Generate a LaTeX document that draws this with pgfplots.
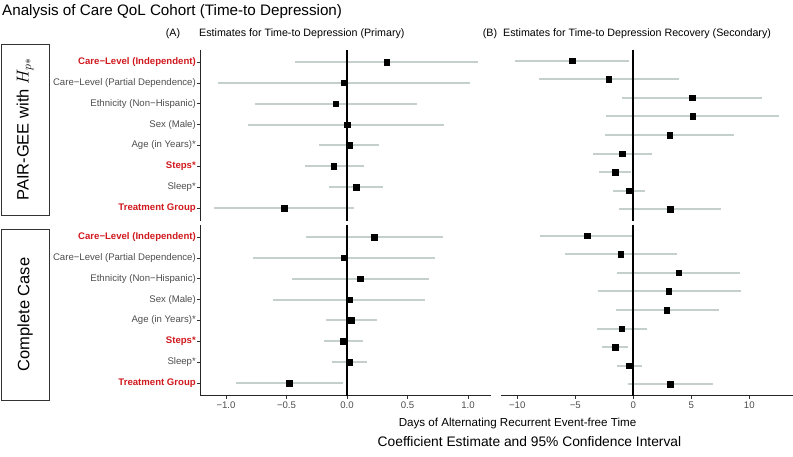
\documentclass[border=0pt]{standalone}
\usepackage{fontspec}
\setmainfont{Liberation Sans}
\usepackage{pgfplots}
\usepackage{pgfplotstable}
\pgfplotsset{compat=1.18}

\definecolor{cigray}{HTML}{C5CFCB}
\definecolor{labred}{HTML}{D0191E}
\definecolor{ticktxt}{HTML}{4D4D4D}

% row est lo hi
\pgfplotstableread{
row est lo hi
1 0.328 -0.43 1.08
2 -0.025 -1.066 1.017
3 -0.093 -0.76 0.576
4 0.0 -0.815 0.80
5 0.02 -0.23 0.267
6 -0.11 -0.35 0.14
7 0.074 -0.146 0.295
8 -0.52 -1.10 0.06
}\primpair
\pgfplotstableread{
row est lo hi
1 0.223 -0.339 0.79
2 -0.025 -0.774 0.725
3 0.11 -0.457 0.68
4 0.02 -0.61 0.642
5 0.036 -0.174 0.245
6 -0.03 -0.19 0.13
7 0.02 -0.127 0.168
8 -0.477 -0.917 -0.036
}\primcc
\pgfplotstableread{
row est lo hi
1 -5.28 -10.2 -0.34
2 -2.12 -8.16 3.94
3 5.06 -0.98 11.12
4 5.12 -2.35 12.6
5 3.13 -2.44 8.68
6 -0.95 -3.47 1.58
7 -1.58 -2.99 -0.23
8 -0.4 -1.75 0.97
9 3.19 -1.2 7.56
}\secpair
\pgfplotstableread{
row est lo hi
1 -3.97 -8.02 0.1
2 -1.09 -5.9 3.76
3 3.9 -1.4 9.22
4 3.04 -3.07 9.25
5 2.87 -1.49 7.35
6 -1.01 -3.16 1.15
7 -1.58 -2.73 -0.49
8 -0.37 -1.44 0.75
9 3.19 -0.49 6.87
}\seccc

\pgfplotsset{
  forest/.style={
    scale only axis, height=171pt, y dir=reverse,
    tick align=outside, major tick length=3pt,
    tick style={black!80, line width=0.5pt},
    axis line style={black!85, line width=0.8pt},
    ticklabel style={font=\fontsize{9.6}{11}\selectfont, text=ticktxt},
    yticklabel style={inner sep=1pt},
    clip=false,
  },
  leftcol/.style={forest, width=291pt, xmin=-1.215, xmax=1.19,
    ymin=0.4, ymax=8.6, ytick={1,...,8},
    xtick={-1,-0.5,0,0.5,1}, xticklabels={−1.0,−0.5,0.0,0.5,1.0},
    yticklabels={{\color{labred}\bfseries Care−Level (Independent)},
      {Care−Level (Partial Dependence)}, {Ethnicity (Non−Hispanic)},
      {Sex (Male)}, {Age (in Years)*}, {\color{labred}\bfseries Steps*},
      {Sleep*}, {\color{labred}\bfseries Treatment Group}}},
  rightcol/.style={forest, width=292pt, xmin=-11.4, xmax=13.77,
    ymin=0.4, ymax=9.6, ytick=\empty,
    xtick={-10,-5,0,5,10}, xticklabels={−10,−5,0,5,10}},
  ci/.style={only marks, mark=none,
    error bars/.cd, x dir=both, x explicit, error mark=none,
    error bar style={line width=2pt, cigray}},
  est/.style={only marks, mark=square*, mark size=2.8pt, black},
}

\newcommand{\forestplot}[3]{%
  \addplot[ci] table[x=est, y=row,
    x error plus expr=\thisrow{hi}-\thisrow{est},
    x error minus expr=\thisrow{est}-\thisrow{lo}] {#1};
  \draw[line width=2pt, black] (axis cs:0,#2) -- (axis cs:0,#3);
  \addplot[est] table[x=est, y=row] {#1};
}

\begin{document}
\begin{tikzpicture}[x=1pt, y=1pt]
\useasboundingbox (0,0) rectangle (793,456);

\node[anchor=west, inner sep=0, font=\fontsize{15.2}{18}\selectfont] at (2,444) {Analysis of Care QoL Cohort (Time-to Depression)};
\node[inner sep=0, font=\fontsize{10.7}{13}\selectfont] at (173,422) {(A)};
\node[anchor=west, inner sep=0, font=\fontsize{10.7}{13}\selectfont] at (199,422) {Estimates for Time-to Depression (Primary)};
\node[inner sep=0, font=\fontsize{10.7}{13}\selectfont] at (490,422) {(B)};
\node[anchor=west, inner sep=0, font=\fontsize{10.7}{13}\selectfont] at (503,422) {Estimates for Time-to Depression Recovery (Secondary)};

\draw[line width=0.8pt, black!80] (1,241) rectangle (49,412);
\node[rotate=90, font=\fontsize{16.5}{19}\selectfont] at (25,326.5) {PAIR-GEE with $H_{p*}$};
\draw[line width=0.8pt, black!80] (1,56) rectangle (49,227);
\node[rotate=90, font=\fontsize{16.5}{19}\selectfont] at (25,141.5) {Complete Case};

\begin{axis}[leftcol, at={(200pt,235.5pt)}, anchor=south west,
  axis y line*=left, axis x line=none]
  \forestplot{\primpair}{0.4}{8.6}
\end{axis}
\begin{axis}[leftcol, at={(200pt,60.5pt)}, anchor=south west,
  axis y line*=left, axis x line*=bottom]
  \forestplot{\primcc}{0.4}{8.6}
\end{axis}
\begin{axis}[rightcol, at={(501pt,235.5pt)}, anchor=south west,
  axis lines=none]
  \forestplot{\secpair}{0.4}{9.6}
\end{axis}
\begin{axis}[rightcol, at={(501pt,60.5pt)}, anchor=south west,
  axis x line*=bottom, axis y line=none]
  \forestplot{\seccc}{0.4}{9.6}
\end{axis}

\node[font=\fontsize{11.6}{14}\selectfont] at (517.5,33) {Days of Alternating Recurrent Event-free Time};
\node[font=\fontsize{13.8}{16}\selectfont] at (529.5,14) {Coefficient Estimate and 95\% Confidence Interval};
\end{tikzpicture}
\end{document}
